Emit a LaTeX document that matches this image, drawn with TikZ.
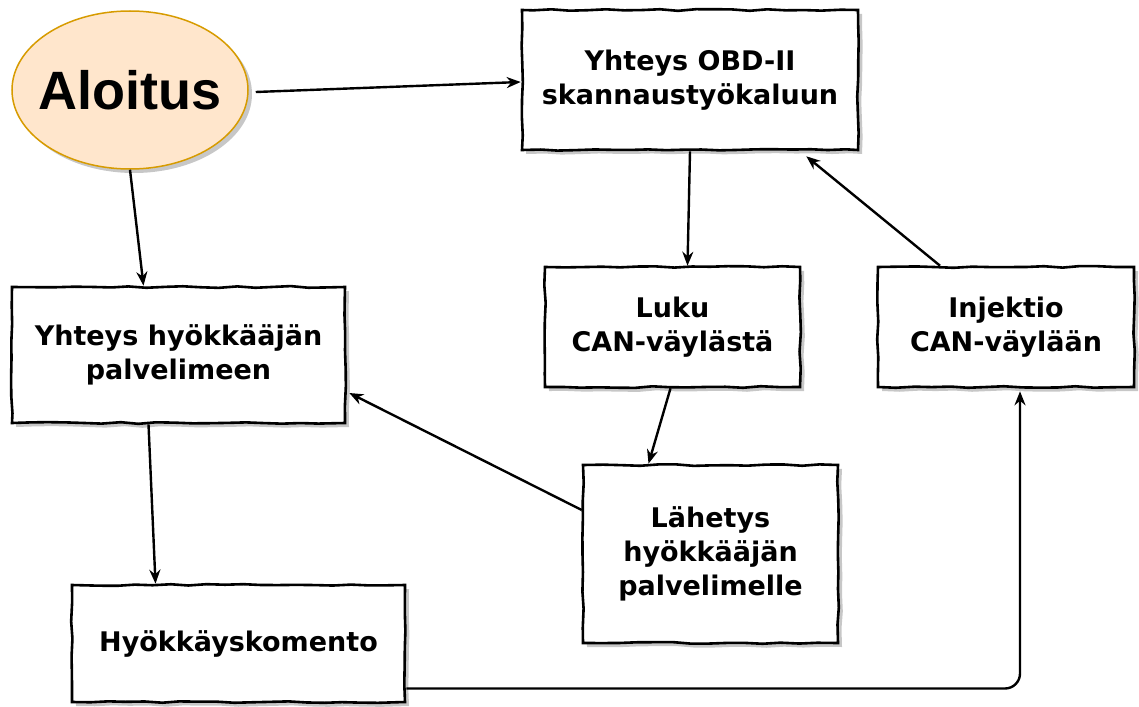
\documentclass[tikz,border=0pt]{standalone}
\usepackage{fontspec}
\setmainfont{DejaVu Sans}
\newfontfamily\startfont{Liberation Sans}
\usetikzlibrary{shapes.geometric,shadows,arrows.meta,calc,decorations.pathmorphing}
\definecolor{startfill}{HTML}{FFE6CC}
\definecolor{startdraw}{HTML}{D79B00}
\tikzset{
  shad/.style={drop shadow={shadow xshift=4pt,shadow yshift=-4pt,opacity=0.22,fill=black}},
  stepbox/.style={draw=black,line width=2.6pt,fill=white,shad,
    decorate,decoration={random steps,segment length=18pt,amplitude=0.9pt},
    align=center,font=\bfseries\fontsize{27}{34}\selectfont,inner sep=0pt},
  startnode/.style={ellipse,draw=startdraw,line width=1.5pt,fill=startfill,shad,
    font=\startfont\bfseries\fontsize{54}{60}\selectfont,inner xsep=-12pt,inner ysep=-6pt},
  arr/.style={line width=2.4pt,-{Stealth[length=14pt,width=11pt]}}
}
\begin{document}
\begin{tikzpicture}[x=1pt,y=-1pt]
\useasboundingbox (0,0) rectangle (1139,706);
\node[startnode,minimum width=236pt,minimum height=158pt] (start) at (130,90) {Aloitus};
\node[stepbox,minimum width=336pt,minimum height=140pt] (obd) at (690,80) {Yhteys OBD-II\\skannaustyökaluun};
\node[stepbox,minimum width=255pt,minimum height=120pt] (luku) at (672.5,327) {Luku\\CAN-väylästä};
\node[stepbox,minimum width=256pt,minimum height=120pt] (inj) at (1006,327) {Injektio\\CAN-väylään};
\node[stepbox,minimum width=333pt,minimum height=136pt] (yh) at (178.5,355) {Yhteys hyökkääjän\\palvelimeen};
\node[stepbox,minimum width=255pt,minimum height=178pt] (lah) at (710.5,554) {Lähetys\\hyökkääjän\\palvelimelle};
\node[stepbox,minimum width=333pt,minimum height=117pt] (hyo) at (238.5,643.5) {Hyökkäyskomento};
\draw[arr] ($(start.east)+(7,2)$) -- ($(obd.west)+(0,2)$);
\draw[arr] (start.south) -- ($(yh.north)+(-35,0)$);
\draw[arr] (obd.south) -- ($(luku.north)+(15,0)$);
\draw[arr] ($(luku.south)+(-2,0)$) -- ($(lah.north)+(-62,0)$);
\draw[arr] ($(lah.west)+(0,-44)$) -- ($(yh.east)+(3,38)$);
\draw[arr] ($(yh.south)+(-30,0)$) -- ($(hyo.north)+(-83,0)$);
\draw[arr,rounded corners=15pt] ($(hyo.east)+(0,45)$) -| ($(inj.south)+(14,3)$);
\draw[arr] ($(inj.north)+(-66,0)$) -- ($(obd.south east)+(-53,5)$);
\end{tikzpicture}
\end{document}
